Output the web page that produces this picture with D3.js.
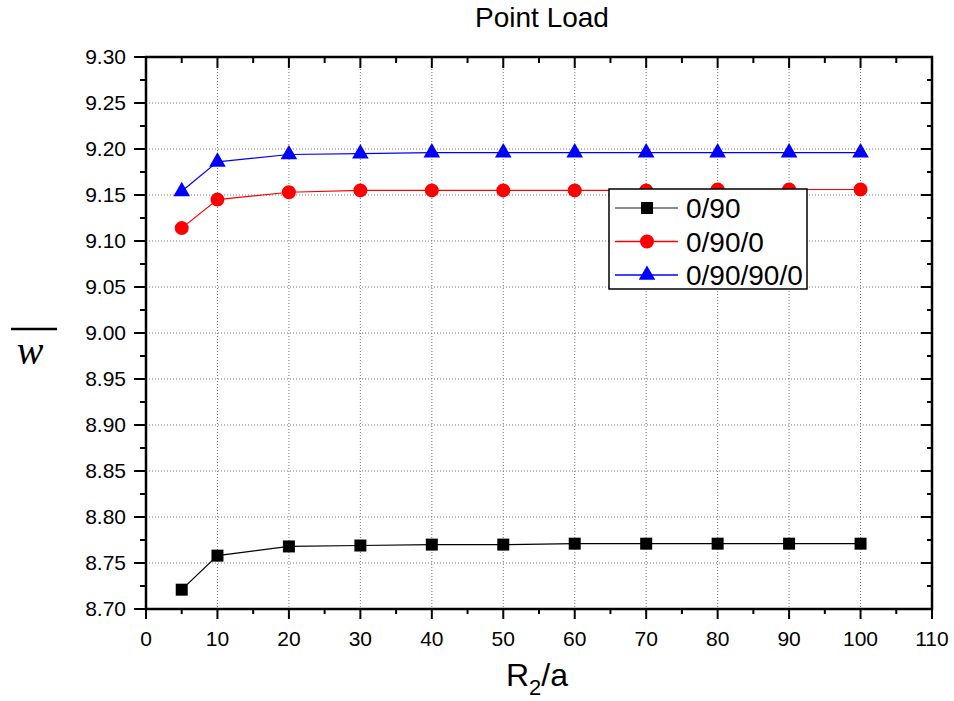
<!DOCTYPE html>
<meta charset="utf-8">
<style>
  body { margin: 0; background: #fff; }
  svg { position: absolute; left: 0; top: 0; }
  text { font-family: 'Liberation Sans', Arial, sans-serif; fill: #000; }
  .grid { stroke: #777; stroke-width: 1; stroke-dasharray: 1,2; }
  .tick-lbl { font-size: 21px; }
</style>
<script src="https://d3js.org/d3.v7.min.js"></script>
<svg width="954" height="701"></svg>
<script>
// values
var xs = [5, 10, 20, 30, 40, 50, 60, 70, 80, 90, 100];
var s090 = [8.721, 8.758, 8.768, 8.769, 8.770, 8.770, 8.771, 8.771, 8.771, 8.771, 8.771];
var s0900 = [9.114, 9.145, 9.153, 9.155, 9.155, 9.155, 9.155, 9.155, 9.156, 9.156, 9.156];
var s09090 = [9.154, 9.186, 9.194, 9.195, 9.196, 9.196, 9.196, 9.196, 9.196, 9.196, 9.196];
var seriesNames = ["0/90", "0/90/0", "0/90/90/0"];
var xTicks = [0, 10, 20, 30, 40, 50, 60, 70, 80, 90, 100, 110];
var yTicks = [8.70, 8.75, 8.80, 8.85, 8.90, 8.95, 9.00, 9.05, 9.10, 9.15, 9.20, 9.25, 9.30];

var svg = d3.select("svg");
var L = 146, R = 932, T = 57, B = 609;

var x = d3.scaleLinear().domain([0, 110]).range([L, R]);
var y = d3.scaleLinear().domain([8.70, 9.30]).range([B, T]);

// grid
var g = svg.append("g");
g.selectAll(".gx").data(xTicks.slice(1, -1)).enter().append("line")
  .attr("class", "grid")
  .attr("x1", function(d) { return x(d); }).attr("x2", function(d) { return x(d); })
  .attr("y1", T).attr("y2", B);
g.selectAll(".gy").data(yTicks.slice(1, -1)).enter().append("line")
  .attr("class", "grid")
  .attr("y1", function(d) { return y(d); }).attr("y2", function(d) { return y(d); })
  .attr("x1", L).attr("x2", R);

// ticks (major + minor) on all four sides
var xMinor = d3.range(5, 110, 10);
var yMinor = d3.range(0, 12).map(function(i) { return 8.725 + i * 0.05; });

function ticks(data, len, side) {
  g.selectAll(null).data(data).enter().append("line")
    .attr("stroke", "#000").attr("stroke-width", 2)
    .attr("x1", function(d) { return side == "b" || side == "t" ? x(d) : (side == "l" ? L : R); })
    .attr("x2", function(d) { return side == "b" || side == "t" ? x(d) : (side == "l" ? L - len : R - len); })
    .attr("y1", function(d) { return side == "l" || side == "r" ? y(d) : (side == "b" ? B : T); })
    .attr("y2", function(d) { return side == "l" || side == "r" ? y(d) : (side == "b" ? B + len : T + len); });
}
ticks(xTicks, 10, "b"); ticks(xMinor, 5, "b");
ticks(xTicks, 11, "t"); ticks(xMinor, 6, "t");
ticks(yTicks, 12, "l"); ticks(yMinor, 6, "l");
ticks(yTicks, 11, "r"); ticks(yMinor, 5, "r");

g.append("rect").attr("x", L).attr("y", T).attr("width", R - L).attr("height", B - T)
  .attr("fill", "none").attr("stroke", "#000").attr("stroke-width", 2.5);

// tick labels
g.selectAll(null).data(xTicks).enter().append("text")
  .attr("class", "tick-lbl")
  .attr("x", function(d) { return x(d); }).attr("y", 646)
  .attr("text-anchor", "middle").text(function(d) { return d; });
g.selectAll(null).data(yTicks).enter().append("text")
  .attr("class", "tick-lbl")
  .attr("x", 126).attr("y", function(d) { return y(d) + 7; })
  .attr("text-anchor", "end").text(function(d) { return d.toFixed(2); });

// title and axis labels
svg.append("text").attr("x", 542).attr("y", 27).attr("text-anchor", "middle")
  .style("font-size", "28px").text("Point Load");
var xl = svg.append("text").attr("x", 537).attr("y", 686).attr("text-anchor", "middle")
  .style("font-size", "32px");
xl.append("tspan").text("R");
xl.append("tspan").attr("dy", 9).style("font-size", "22px").text("2");
xl.append("tspan").attr("dy", -9).text("/a");
svg.append("line").attr("x1", 11).attr("x2", 57).attr("y1", 329).attr("y2", 329)
  .attr("stroke", "#000").attr("stroke-width", 2.5);
svg.append("text").attr("x", 30).attr("y", 364).attr("text-anchor", "middle")
  .style("font-family", "'Liberation Serif', 'Times New Roman', serif")
  .style("font-style", "italic").style("font-size", "40px").text("w");

// series
var series = [
  { name: seriesNames[0], vals: s090, color: "#000", shape: d3.symbolSquare, size: 144 },
  { name: seriesNames[1], vals: s0900, color: "#ff0000", shape: d3.symbolCircle, size: 154 },
  { name: seriesNames[2], vals: s09090, color: "#0000ff", shape: d3.symbolTriangle, size: 120 }
];
var line = d3.line().x(function(d) { return x(d[0]); }).y(function(d) { return y(d[1]); });

series.forEach(function(s) {
  var pts = xs.map(function(v, i) { return [v, s.vals[i]]; });
  svg.append("path").attr("d", line(pts)).attr("fill", "none")
    .attr("stroke", s.color).attr("stroke-width", 1.2);
  svg.selectAll(null).data(pts).enter().append("path")
    .attr("d", d3.symbol().type(s.shape).size(s.size))
    .attr("transform", function(d) { return "translate(" + x(d[0]) + "," + y(d[1]) + ")"; })
    .attr("fill", s.color);
});

// legend
var lg = svg.append("g");
lg.append("rect").attr("x", 609).attr("y", 189).attr("width", 198).attr("height", 100)
  .attr("fill", "#fff").attr("stroke", "#000").attr("stroke-width", 1.5);
series.forEach(function(s, i) {
  var cy = 208 + i * 33.5;
  lg.append("line").attr("x1", 615).attr("x2", 678).attr("y1", cy).attr("y2", cy)
    .attr("stroke", s.color == "#000" ? "#666" : s.color).attr("stroke-width", 1.5);
  lg.append("path").attr("d", d3.symbol().type(s.shape).size(s.size))
    .attr("transform", "translate(647," + cy + ")").attr("fill", s.color);
  lg.append("text").attr("x", 686).attr("y", cy + 10).style("font-size", "28px").text(s.name);
});
</script>
